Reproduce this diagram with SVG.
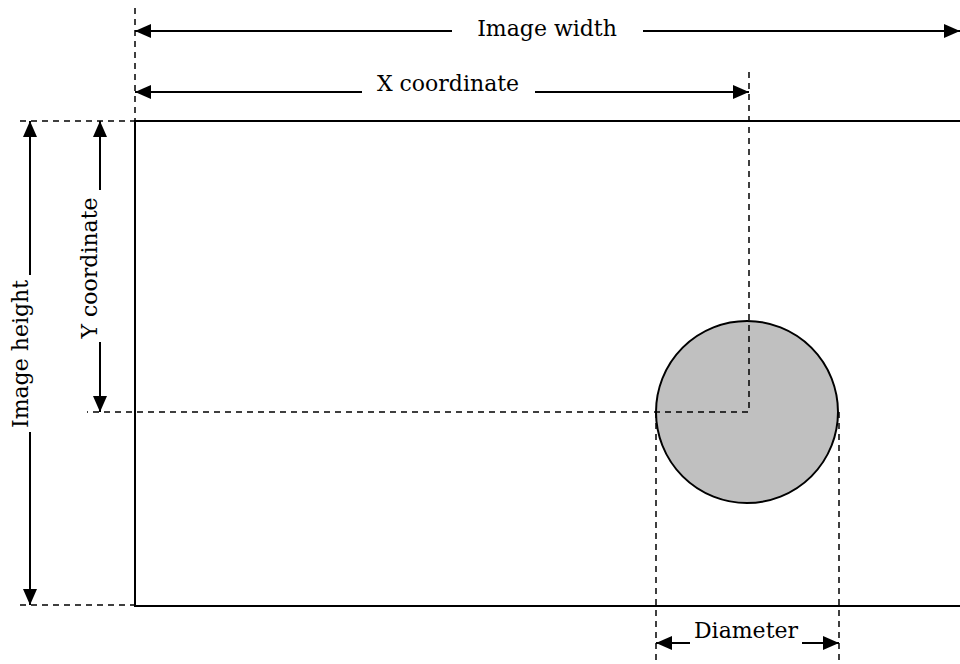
<svg xmlns="http://www.w3.org/2000/svg" width="960" height="664" viewBox="0 0 960 664">
<style>
.s{stroke:#000;stroke-width:2;fill:none}
.d{stroke:#000;stroke-width:1.5;fill:none;stroke-dasharray:6,5}
text{font-family:"DejaVu Serif","Liberation Serif",serif;font-size:22px;fill:#000}
</style>
<defs>
<marker id="ah" viewBox="0 0 16 14" refX="16" refY="7" markerWidth="16" markerHeight="14" markerUnits="userSpaceOnUse" orient="auto-start-reverse">
<path d="M0,0 L16,7 L0,14 Z" fill="#000"/>
</marker>
</defs>
<rect width="960" height="664" fill="#fff"/>
<g id="image">
<path class="s" d="M960,121 H135 V606 H960"/>
</g>
<g id="circle">
<circle cx="747" cy="412" r="91" fill="#c0c0c0" stroke="#000" stroke-width="2"/>
</g>
<g id="connectors">
<path class="d" d="M135,8 V121"/>
<path class="d" d="M749,72 V412 H87"/>
<path class="d" d="M20,121 H135"/>
<path class="d" d="M20,605 H135"/>
<path class="d" d="M656,412 V664"/>
<path class="d" d="M839,412 V664"/>
<path class="s" d="M135,31 H452" marker-start="url(#ah)"/>
<path class="s" d="M643,31 H960" marker-end="url(#ah)"/>
<path class="s" d="M135,92 H362" marker-start="url(#ah)"/>
<path class="s" d="M535,92 H749" marker-end="url(#ah)"/>
<path class="s" d="M30,121 V275" marker-start="url(#ah)"/>
<path class="s" d="M30,432 V605" marker-end="url(#ah)"/>
<path class="s" d="M100,121 V190" marker-start="url(#ah)"/>
<path class="s" d="M100,342 V412" marker-end="url(#ah)"/>
<path class="s" d="M656,643 H690" marker-start="url(#ah)"/>
<path class="s" d="M802,643 H839" marker-end="url(#ah)"/>
</g>
<g id="labels">
<text x="547" y="36" text-anchor="middle">Image width</text>
<text x="448" y="91" text-anchor="middle">X coordinate</text>
<text x="746" y="638" text-anchor="middle">Diameter</text>
<text transform="translate(28,354) rotate(-90)" text-anchor="middle">Image height</text>
<text transform="translate(97,268) rotate(-90)" text-anchor="middle">Y coordinate</text>
</g>
</svg>
